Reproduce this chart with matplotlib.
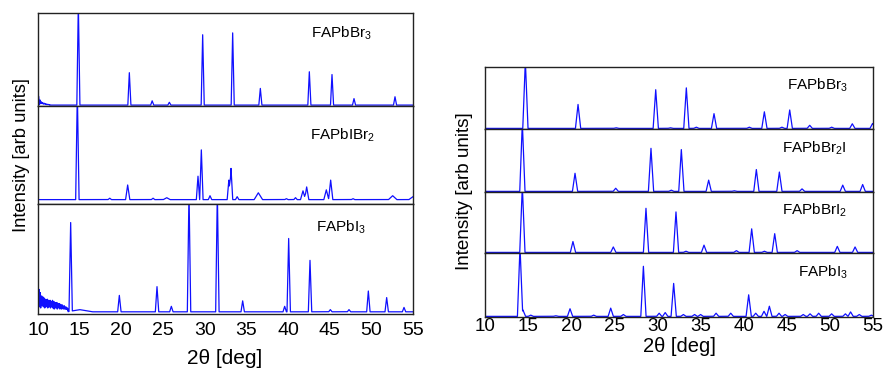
import numpy as np
import matplotlib
matplotlib.use('Agg')
import matplotlib.pyplot as plt

plt.rcParams['font.family'] = ['Liberation Sans', 'DejaVu Sans']
plt.rcParams['mathtext.default'] = 'regular'

# ---------------- data ----------------
xticks = [10, 15, 20, 25, 30, 35, 40, 45, 50, 55]

left_names = ['FAPbBr$_3$', 'FAPbIBr$_2$', 'FAPbI$_3$']
right_names = ['FAPbBr$_3$', 'FAPbBr$_2$I', 'FAPbBrI$_2$', 'FAPbI$_3$']

# left panel
L1_pos = [14.84, 20.96, 23.7, 25.76, 29.76, 33.36, 36.68, 42.56, 45.28, 47.92, 52.84]
L1_hgt = [1.1, 0.35, 0.046, 0.03, 0.76, 0.78, 0.18, 0.36, 0.33, 0.07, 0.09]
L1_noise = [0.0, 0.10, 0.01, 0.06, 0.02, 0.04, 0.02, 0.03, 0.015, 0.025, 0.015, 0.02,
            0.01, 0.015, 0.01, 0.012, 0.008, 0.01]

L2_pos = [14.72, 18.6, 20.76, 23.8, 25.44, 29.2, 29.6, 30.64, 32.9, 33.16, 33.9, 36.44,
          39.8, 40.9, 41.8, 42.24, 44.6, 45.12, 47.8, 52.56, 55.0]
L2_hgt = [1.1, 0.015, 0.15, 0.015, 0.02, 0.24, 0.51, 0.04, 0.2, 0.32, 0.03, 0.07,
          0.01, 0.02, 0.09, 0.13, 0.1, 0.2, 0.01, 0.04, 0.03]
L2_wid = [0.2, 0.2, 0.25, 0.2, 0.4, 0.2, 0.2, 0.2, 0.2, 0.2, 0.2, 0.5,
          0.2, 0.2, 0.3, 0.25, 0.3, 0.25, 0.2, 0.5, 0.5]

L3_pos = [13.92, 15.0, 19.76, 24.28, 26.0, 28.12, 31.52, 34.56, 39.6, 40.08, 42.64, 45.08,
          47.32, 49.64, 51.84, 53.92]
L3_hgt = [0.81, 0.02, 0.15, 0.23, 0.05, 1.1, 1.1, 0.1, 0.05, 0.67, 0.47, 0.02,
          0.02, 0.19, 0.13, 0.04]
L3_wid = [0.2, 1.5, 0.2, 0.2, 0.2, 0.2, 0.2, 0.2, 0.2, 0.2, 0.2, 0.2,
          0.2, 0.2, 0.2, 0.2]
L3_noise = [0.03, 0.20, 0.10, 0.22, 0.06, 0.17, 0.12, 0.19, 0.05, 0.15,
            0.09, 0.16, 0.07, 0.13, 0.10, 0.15, 0.06, 0.12, 0.09, 0.14,
            0.05, 0.11, 0.08, 0.13, 0.06, 0.12, 0.10, 0.07, 0.13, 0.05,
            0.11, 0.08, 0.12, 0.06, 0.10, 0.09, 0.12, 0.05, 0.09, 0.11,
            0.06, 0.10, 0.07, 0.12, 0.05, 0.09, 0.08, 0.11, 0.04, 0.09,
            0.07, 0.10, 0.05, 0.08, 0.09, 0.06, 0.10, 0.04, 0.08, 0.07,
            0.09, 0.05, 0.08, 0.06, 0.09, 0.04, 0.07, 0.08, 0.05, 0.07,
            0.04, 0.08, 0.06, 0.05, 0.07, 0.04, 0.06, 0.05, 0.07, 0.04,
            0.06, 0.05, 0.04, 0.06, 0.04, 0.05, 0.04, 0.05, 0.03, 0.04]

# right panel
R1_pos = [14.68, 20.79, 25.2, 29.8, 31.5, 33.35, 34.5, 36.56, 40.65, 42.4, 44.43, 45.34,
          47.66, 50.2, 52.6, 54.95]
R1_hgt = [1.1, 0.39, 0.01, 0.63, 0.01, 0.66, 0.02, 0.24, 0.02, 0.27, 0.02, 0.30,
          0.05, 0.02, 0.075, 0.08]

R2_pos = [14.33, 20.44, 25.16, 29.25, 31.6, 32.77, 35.94, 38.9, 41.47, 44.14, 46.77, 51.49, 53.8]
R2_hgt = [1.1, 0.29, 0.05, 0.69, 0.02, 0.67, 0.18, 0.01, 0.35, 0.31, 0.04, 0.1, 0.11]

R3_pos = [14.33, 20.2, 24.88, 28.67, 32.15, 33.3, 35.4, 39.15, 40.93, 42.4, 43.6, 46.19,
          50.86, 52.92]
R3_hgt = [1.1, 0.18, 0.09, 0.73, 0.67, 0.02, 0.12, 0.03, 0.39, 0.02, 0.31, 0.03,
          0.1, 0.09]

R4_pos = [14.06, 14.4, 15.3, 18.2, 19.86, 22.6, 24.58, 26.04, 28.37, 30.2, 30.9, 31.88,
          33.0, 34.3, 35.0, 36.8, 38.5, 40.58, 41.4, 42.36, 42.98, 44.1, 44.8, 46.9,
          47.7, 48.7, 50.2, 51.8, 52.4, 53.4, 54.8]
R4_hgt = [1.1, 0.1, 0.02, 0.01, 0.12, 0.02, 0.13, 0.03, 0.79, 0.05, 0.06, 0.52,
          0.03, 0.03, 0.03, 0.05, 0.05, 0.34, 0.05, 0.08, 0.16, 0.05, 0.03, 0.03,
          0.04, 0.05, 0.04, 0.04, 0.07, 0.03, 0.02]

# ---------------- helpers ----------------
def profile(x, pos, hgt, wid, base):
    y = np.full_like(x, base, dtype=float)
    wid = np.broadcast_to(np.asarray(wid, dtype=float), (len(pos),))
    for p, h, w in zip(pos, hgt, wid):
        y += h * np.clip(1 - np.abs(x - p) / w, 0, None)
    return y

def series(pos, hgt, wid, base, noise=None, noise_end=None):
    if noise is None:
        x = np.arange(10.0, 55.0001, 0.01)
        return x, profile(x, pos, hgt, wid, base)
    xn = np.linspace(10.0, noise_end, len(noise))
    x = np.arange(noise_end + 0.01, 55.0001, 0.01)
    y = profile(x, pos, hgt, wid, base)
    yn = np.asarray(noise) + profile(xn, pos, hgt, wid, 0)
    return np.concatenate([xn, x]), np.concatenate([yn, y])

W, H = 886, 368
fig = plt.figure(figsize=(W / 100, H / 100), dpi=100)
BLUE = '#1010ff'
SPINE = '#222222'

def add_ax(x0, x1, ytop, ybot):
    ax = fig.add_axes([x0 / W, 1 - ybot / H, (x1 - x0) / W, (ybot - ytop) / H])
    ax.set_xlim(10, 55)
    ax.set_yticks([])
    ax.set_xticks(xticks)
    ax.tick_params(axis='x', length=0)
    for s in ax.spines.values():
        s.set_color(SPINE)
        s.set_linewidth(1.0)
    return ax

# left panel
left_rows = [(13, 106), (106, 204), (204, 314)]
left_data = [
    series(L1_pos, L1_hgt, 0.18, 0.005, L1_noise, 11.4),
    series(L2_pos, L2_hgt, L2_wid, 0.04),
    series(L3_pos, L3_hgt, L3_wid, 0.015, L3_noise, 13.6),
]
left_lbl = [(311, 33), (310, 135), (316, 227)]
for i, ((yt, yb), (x, y)) in enumerate(zip(left_rows, left_data)):
    ax = add_ax(38, 413, yt, yb)
    ax.set_ylim(-0.005, 1.0)
    ax.plot(x, y, color=BLUE, lw=0.9)
    if i < len(left_rows) - 1:
        ax.set_xticklabels([])
    else:
        ax.tick_params(axis='x', labelsize=14, pad=6)
    fig.text(left_lbl[i][0] / W, 1 - left_lbl[i][1] / H, left_names[i],
             fontsize=11, ha='left', va='center')

fig.text(225 / W, 1 - 359 / H, '2θ [deg]', fontsize=15, ha='center', va='center')
fig.text(22 / W, 1 - 155 / H, 'Intensity [arb units]', fontsize=13.2, rotation=90,
         ha='center', va='center')

# right panel
right_rows = [(67, 129), (129, 192), (192, 253), (253, 317)]
right_data = [
    series(R1_pos, R1_hgt, 0.3, 0.0),
    series(R2_pos, R2_hgt, 0.3, 0.0),
    series(R3_pos, R3_hgt, 0.3, 0.0),
    series(R4_pos, R4_hgt, 0.3, 0.0),
]
right_lbl = [(787, 85), (782, 148), (782, 210), (798, 272)]
for i, ((yt, yb), (x, y)) in enumerate(zip(right_rows, right_data)):
    ax = add_ax(485, 873, yt, yb)
    ax.set_ylim(-0.01, 1.0)
    ax.plot(x, y, color=BLUE, lw=0.9)
    if i < len(right_rows) - 1:
        ax.set_xticklabels([])
    else:
        ax.tick_params(axis='x', labelsize=13.5, pad=1)
    fig.text(right_lbl[i][0] / W, 1 - right_lbl[i][1] / H, right_names[i],
             fontsize=11, ha='left', va='center')

fig.text(679 / W, 1 - 347 / H, '2θ [deg]', fontsize=14.5, ha='center', va='center')
fig.text(465 / W, 1 - 191 / H, 'Intensity [arb units]', fontsize=13.6, rotation=90,
         ha='center', va='center')

fig.savefig('out.png', dpi=100)
